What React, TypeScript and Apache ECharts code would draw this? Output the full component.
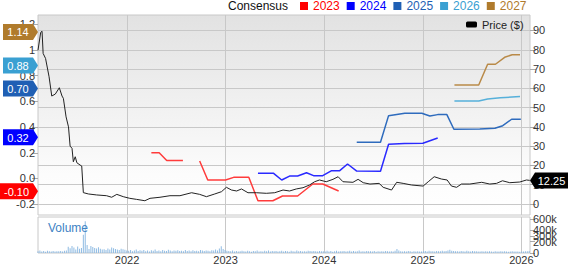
import React, { useEffect, useRef } from "react";
import * as echarts from "echarts";

// ---- Data ----
const legendYears = ["2023", "2024", "2025", "2026", "2027"];
const legendColors = ["#ff0000", "#0000ff", "#1f5fb4", "#3aa0d2", "#b07b2c"];
const lineColors = ["#ff3b3b", "#2a2aff", "#2e6bbd", "#56b0da", "#b98a48"];

const tagValues = [1.14, 0.88, 0.7, 0.32, -0.1];
const tagLabels = ["1.14", "0.88", "0.70", "0.32", "-0.10"];
const tagColors = ["#b07b2c", "#3aa0d2", "#1f5fb4", "#0000ff", "#ff0000"];
const lastPrice = 12.25;
const lastPriceLabel = "12.25";

const leftTicks = [-0.2, 0, 0.2, 0.4, 0.6, 0.8, 1, 1.2];
const rightTicks = [0, 10, 20, 30, 40, 50, 60, 70, 80, 90];
const volTicks = [0, 100000, 200000, 300000, 400000, 500000, 600000];
const yearTicks = ["2022-01-01", "2023-01-01", "2024-01-01", "2025-01-01", "2026-01-01"];
const startDate = "2021-02-05";
const endDate = "2026-02-02";

const priceDates = [
  "2021-02-05", "2021-02-15", "2021-02-20", "2021-02-24", "2021-03-05", "2021-03-18", "2021-03-28",
  "2021-04-10", "2021-04-25", "2021-05-05", "2021-05-10", "2021-05-20", "2021-05-29", "2021-06-04",
  "2021-06-11", "2021-06-16", "2021-06-23", "2021-06-29", "2021-07-11", "2021-07-17", "2021-07-23",
  "2021-08-11", "2021-09-10", "2021-10-17", "2021-11-05", "2021-11-24", "2021-12-18", "2022-01-11",
  "2022-02-05", "2022-03-08", "2022-03-27", "2022-05-03", "2022-06-09", "2022-07-16", "2022-08-28",
  "2022-09-27", "2022-10-22", "2022-11-22", "2022-12-17", "2023-01-04", "2023-01-23", "2023-02-11",
  "2023-03-01", "2023-03-25", "2023-04-25", "2023-06-01", "2023-07-02", "2023-08-02", "2023-08-26",
  "2023-09-20", "2023-10-15", "2023-11-08", "2023-11-27", "2023-12-15", "2024-01-09", "2024-02-03",
  "2024-02-22", "2024-03-11", "2024-04-17", "2024-05-06", "2024-05-25", "2024-06-19", "2024-07-23",
  "2024-08-07", "2024-09-07", "2024-09-26", "2024-10-20", "2024-11-20", "2025-01-02", "2025-01-21",
  "2025-02-12", "2025-03-11", "2025-04-01", "2025-04-17", "2025-05-06", "2025-05-24", "2025-06-24",
  "2025-08-07", "2025-09-06", "2025-10-01", "2025-10-23", "2025-11-19", "2025-12-26", "2026-01-20",
  "2026-02-01",
];
const priceValues = [
  79.8, 89.0, 89.6, 78.1, 75.5, 66.0, 56.0,
  57.0, 60.3, 56.0, 54.8, 45.2, 40.0, 30.0,
  28.9, 21.9, 24.5, 21.4, 20.2, 19.7, 5.9,
  5.2, 4.7, 4.3, 3.5, 5.0, 3.8, 2.95,
  2.4, 1.7, 2.95, 3.5, 4.3, 4.3, 5.85,
  5.0, 3.8, 5.2, 6.4, 8.65, 7.25, 6.75,
  7.8, 5.85, 5.85, 5.55, 5.85, 7.25, 6.75,
  7.8, 8.45, 9.85, 11.55, 12.45, 11.55, 12.8,
  14.15, 11.55, 11.25, 12.8, 11.05, 10.35, 10.7,
  8.65, 7.25, 11.25, 10.7, 9.85, 9.3, 11.55,
  14.15, 12.95, 12.45, 9.3, 8.65, 10.35, 10.35,
  11.25, 10.35, 10.7, 12.05, 11.05, 11.4, 12.45,
  12.25,
];

const est2023Dates = [
  "2022-04-01", "2022-04-30", "2022-05-28", "2022-07-27", "2022-08-30", "2022-09-27", "2022-10-27",
  "2023-01-01", "2023-01-31", "2023-03-28", "2023-05-01", "2023-06-25", "2023-07-31", "2023-09-25",
  "2023-11-20", "2023-12-27", "2024-02-24",
];
const est2023Values = [
  0.2, 0.2, 0.14, 0.14, null, 0.136, -0.012,
  -0.012, 0.009, 0.009, -0.173, -0.173, -0.136, -0.136,
  -0.043, -0.043, -0.097,
];
const est2024Dates = [
  "2023-05-01", "2023-06-28", "2023-07-28", "2023-08-26", "2023-09-25", "2023-10-28", "2023-11-23",
  "2023-12-27", "2024-01-29", "2024-02-28", "2024-03-28", "2024-05-01", "2024-07-28", "2024-08-27",
  "2024-10-25", "2025-01-01", "2025-02-25",
];
const est2024Values = [
  0.04, 0.04, -0.012, 0.019, 0.019, 0.045, 0.022,
  0.022, 0.061, 0.061, 0.113, 0.058, 0.056, 0.266,
  0.272, 0.274, 0.315,
];
const est2025Dates = [
  "2024-05-01", "2024-07-28", "2024-08-27", "2024-10-26", "2024-12-28", "2025-01-27", "2025-02-25",
  "2025-03-31", "2025-04-26", "2025-07-31", "2025-09-25", "2025-10-24", "2025-11-26", "2025-12-30",
];
const est2025Values = [
  0.282, 0.282, 0.489, 0.507, 0.507, 0.486, 0.497,
  0.497, 0.383, 0.385, 0.391, 0.411, 0.461, 0.461,
];
const est2026Dates = ["2025-04-28", "2025-07-27", "2025-08-29", "2025-10-15", "2025-12-27"];
const est2026Values = [0.603, 0.603, 0.619, 0.628, 0.637];
const est2027Dates = [
  "2025-04-28", "2025-07-27", "2025-08-29", "2025-09-27", "2025-10-31", "2025-11-28", "2025-12-27",
];
const est2027Values = [0.728, 0.728, 0.889, 0.889, 0.943, 0.963, 0.963];

// weekly volume in thousands, starting 2021-02-05
const volumeK = [
  30, 45, 28, 35, 22, 40, 30, 25, 35, 28, 32,
  30, 35, 28, 40, 45,
  110, 85, 125, 95, 60, 115, 75, 90,
  320, 560, 140,
  70, 125, 105, 90, 80, 100, 75, 60, 65, 55, 80, 60, 95, 85, 70, 60, 55, 75, 65, 58,
  45, 38, 52, 30, 42, 60, 35, 48, 40, 55, 33, 45, 28, 50, 38, 62, 36, 44, 30, 52,
  40, 35, 58, 42, 30, 46, 38, 50, 34, 41, 29, 55, 37, 43, 32, 48, 36, 40, 30, 52,
  44, 35, 46, 38, 33, 50, 42, 60, 45, 80, 120, 70,
  55, 40, 35, 30, 42, 28, 36, 25, 33, 40, 30, 26, 38, 32, 24, 35, 30, 45, 28, 33,
  26, 38, 30, 42, 27, 34, 29, 36, 25, 31, 40, 28, 35, 30, 24, 38, 33, 27, 45, 30,
  36, 28, 32, 26, 40, 34, 29, 37, 31, 25, 35, 30,
  32, 26, 38, 28, 35, 24, 30, 40, 27, 33, 29, 36, 25, 31, 38, 28, 34, 26, 30, 42,
  28, 33, 25, 37, 29, 31, 27, 35, 24, 30, 26, 33, 28, 36, 30, 27, 32, 25, 38, 72,
  45, 33, 28, 30, 26, 35, 29, 24, 32, 27, 30, 28,
  26, 31, 35, 28, 40, 30, 33, 27, 36, 29, 32, 38, 30, 34, 45, 58, 40, 36, 30, 33,
  28, 35, 31, 26, 38, 30, 27, 34, 29, 32, 28, 25, 30, 27, 33, 26, 31, 28, 24, 30,
  27, 25, 29, 26, 32, 28, 24, 27, 30, 25, 28, 26, 23, 27, 25, 29, 31, 35,
];

const FONT = "'Liberation Sans', Arial, sans-serif";
const GRID_LEFT = 38;
const GRID_RIGHT_X = 530;

const ts = (s: string) => Date.parse(s + "T00:00:00Z");
const zip = (d: string[], v: (number | null)[]) => d.map((x, i) => [ts(x), v[i]]);

export default function App() {
  const ref = useRef<HTMLDivElement>(null);
  useEffect(() => {
    document.body.style.margin = "0";
    const chart = echarts.init(ref.current!, null, { renderer: "svg" });
    const yearVals = yearTicks.map(ts);
    const start = ts(startDate);
    const volDates: number[] = volumeK.map((_, i) => start + i * 7 * 86400000);

    const estSeries = [
      [est2023Dates, est2023Values],
      [est2024Dates, est2024Values],
      [est2025Dates, est2025Values],
      [est2026Dates, est2026Values],
      [est2027Dates, est2027Values],
    ].map(([d, v], i) => ({
      name: legendYears[i],
      type: "line",
      xAxisIndex: 0,
      yAxisIndex: 0,
      data: zip(d as string[], v as (number | null)[]),
      color: legendColors[i],
      lineStyle: { color: lineColors[i], width: 1.5 },
      symbol: "none",
      showSymbol: false,
      connectNulls: false,
      z: 3,
    }));

    const axisLabelBase = {
      fontFamily: FONT,
      fontSize: 11,
      color: "#333",
      hideOverlap: false,
      showMinLabel: true,
      showMaxLabel: true,
    };

    chart.setOption({
      animation: false,
      textStyle: { fontFamily: FONT },
      legend: [
        {
          data: legendYears.map((y, i) => ({ name: y, textStyle: { color: legendColors[i] } })),
          left: 300,
          top: 0,
          padding: 0,
          icon: "rect",
          itemWidth: 8,
          itemHeight: 8,
          itemGap: 7,
          textStyle: { fontFamily: FONT, fontSize: 12 },
          selectedMode: false,
        },
        {
          data: ["Price ($)"],
          left: 466,
          top: 19,
          padding: 0,
          icon: "roundRect",
          itemWidth: 11,
          itemHeight: 6,
          textStyle: { fontFamily: FONT, fontSize: 11, color: "#222" },
          selectedMode: false,
        },
      ],
      grid: [
        {
          left: GRID_LEFT,
          top: 15,
          width: GRID_RIGHT_X - GRID_LEFT,
          height: 200,
          show: true,
          backgroundColor: new echarts.graphic.LinearGradient(0, 0, 0, 1, [
            { offset: 0, color: "#e2e2e2" },
            { offset: 0.8, color: "#fcfcfc" },
            { offset: 1, color: "#ffffff" },
          ]),
          borderColor: "#c8c8c8",
          borderWidth: 1,
          outerBoundsMode: "none",
          containLabel: false,
        },
        {
          left: GRID_LEFT,
          top: 217,
          width: GRID_RIGHT_X - GRID_LEFT,
          height: 36,
          show: true,
          backgroundColor: "#ffffff",
          borderColor: "#c8c8c8",
          borderWidth: 1,
          outerBoundsMode: "none",
          containLabel: false,
        },
      ],
      xAxis: [
        {
          type: "value",
          gridIndex: 0,
          min: ts(startDate),
          max: ts(endDate),
          axisLine: { show: false },
          axisTick: { show: false, customValues: yearVals },
          axisLabel: { show: false, customValues: yearVals },
          splitLine: { show: true, lineStyle: { color: "#c8c8c8", width: 1 } },
        },
        {
          type: "value",
          gridIndex: 1,
          min: ts(startDate),
          max: ts(endDate),
          axisLine: { show: false },
          axisTick: { show: false, customValues: yearVals },
          axisLabel: {
            ...axisLabelBase,
            customValues: yearVals,
            margin: 1,
            formatter: (v: number) => String(new Date(v).getUTCFullYear()),
          },
          splitLine: { show: true, lineStyle: { color: "#c8c8c8", width: 1 } },
        },
      ],
      yAxis: [
        {
          type: "value",
          gridIndex: 0,
          position: "left",
          min: -0.284,
          max: 1.272,
          axisLine: { show: false },
          axisTick: { show: true, length: 6, customValues: leftTicks, lineStyle: { color: "#aaa" } },
          axisLabel: {
            ...axisLabelBase,
            customValues: leftTicks,
            margin: 3,
            formatter: (v: number) => (Math.abs(v - 1) < 1e-9 ? "1" : v.toFixed(1)),
          },
          splitLine: { show: false },
        },
        {
          type: "value",
          gridIndex: 0,
          position: "right",
          min: -5.705,
          max: 98.03,
          axisLine: { show: false },
          axisTick: { show: true, length: 6, customValues: rightTicks, lineStyle: { color: "#aaa" } },
          axisLabel: { ...axisLabelBase, customValues: rightTicks, margin: 3 },
          splitLine: { show: true, lineStyle: { color: "#c8c8c8", width: 1 } },
        },
        {
          type: "value",
          gridIndex: 1,
          position: "right",
          min: 0,
          max: 635000,
          axisLine: { show: false },
          axisTick: { show: true, length: 5, customValues: volTicks, lineStyle: { color: "#aaa" } },
          axisLabel: {
            ...axisLabelBase,
            customValues: volTicks,
            margin: 3,
            formatter: (v: number) => (v === 0 ? "0" : Math.round(v / 1000) + "k"),
          },
          splitLine: { show: false },
        },
      ],
      series: [
        ...estSeries,
        {
          name: "Price ($)",
          type: "line",
          xAxisIndex: 0,
          yAxisIndex: 1,
          data: zip(priceDates, priceValues),
          color: "#000",
          lineStyle: { color: "#222", width: 1 },
          symbol: "none",
          showSymbol: false,
          z: 4,
        },
        {
          name: "Volume",
          type: "bar",
          xAxisIndex: 1,
          yAxisIndex: 2,
          data: volDates.map((d, i) => [d, volumeK[i] * 1000]),
          barWidth: 1,
          itemStyle: { color: "#8fbbe3" },
        },
      ],
    });

    const yL = (v: number) => chart.convertToPixel({ yAxisIndex: 0 } as any, v) as number;
    const yR = (v: number) => chart.convertToPixel({ yAxisIndex: 1 } as any, v) as number;
    const graphics: any[] = [
      {
        type: "text",
        x: 228,
        y: 6,
        z: 100,
        style: { text: "Consensus", fill: "#111", font: `12px ${FONT}`, align: "left", verticalAlign: "middle" },
      },
      {
        type: "text",
        x: 48,
        y: 228,
        z: 100,
        style: { text: "Volume", fill: "#3d82c4", font: `12px ${FONT}`, align: "left", verticalAlign: "middle" },
      },
    ];
    tagValues.forEach((v, i) => {
      const yc = yL(v);
      const x0 = tagLabels[i].startsWith("-") ? 0 : 3;
      const tip = GRID_LEFT;
      graphics.push({
        type: "polygon",
        z: 100,
        shape: {
          points: [
            [x0, yc - 8],
            [tip - 5, yc - 8],
            [tip, yc],
            [tip - 5, yc + 8],
            [x0, yc + 8],
          ],
        },
        style: { fill: tagColors[i] },
      });
      graphics.push({
        type: "text",
        z: 101,
        x: (x0 + tip - 5) / 2,
        y: yc + 0.5,
        style: { text: tagLabels[i], fill: "#fff", font: `11px ${FONT}`, align: "center", verticalAlign: "middle" },
      });
    });
    {
      const yc = yR(lastPrice);
      const tip = GRID_RIGHT_X;
      graphics.push({
        type: "polygon",
        z: 100,
        shape: {
          points: [
            [tip, yc],
            [tip + 5, yc - 8],
            [568, yc - 8],
            [568, yc + 8],
            [tip + 5, yc + 8],
          ],
        },
        style: { fill: "#000" },
      });
      graphics.push({
        type: "text",
        z: 101,
        x: (tip + 5 + 568) / 2,
        y: yc + 0.5,
        style: { text: lastPriceLabel, fill: "#fff", font: `11px ${FONT}`, align: "center", verticalAlign: "middle" },
      });
    }
    chart.setOption({ graphic: graphics });

    return () => chart.dispose();
  }, []);
  return <div ref={ref} style={{ width: 571, height: 264 }} />;
}
